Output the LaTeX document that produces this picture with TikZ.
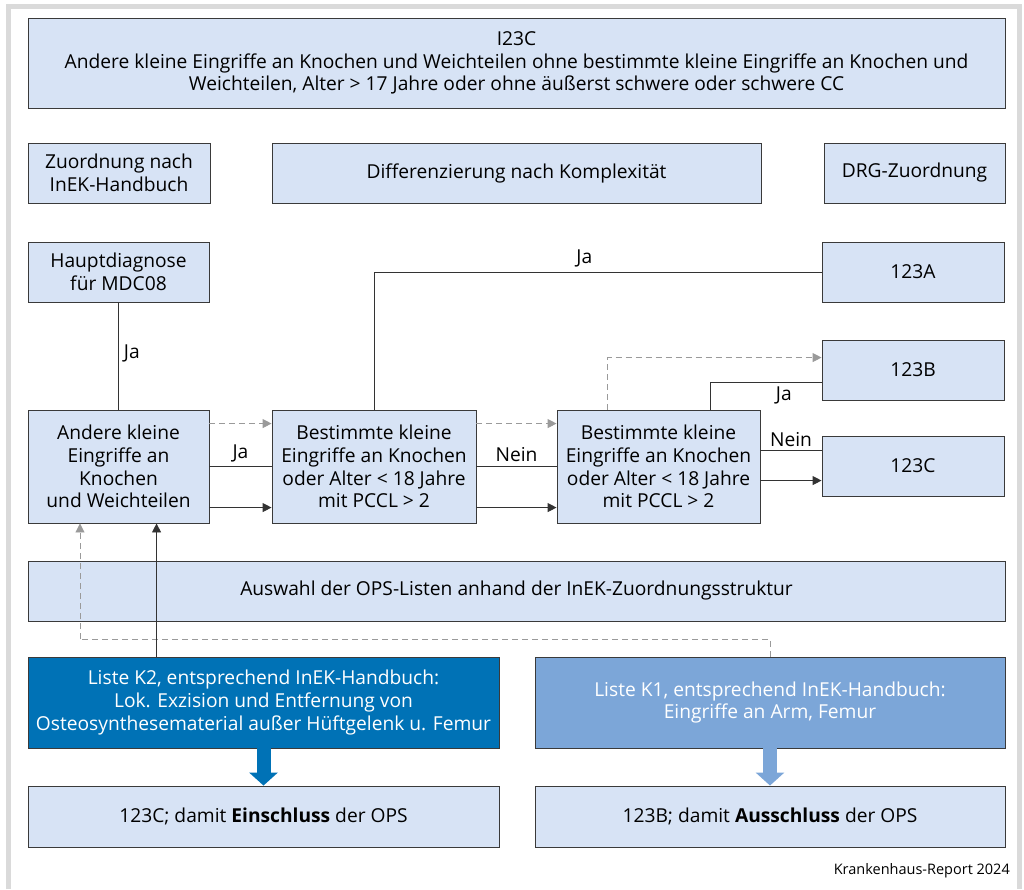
\documentclass[tikz,border=0pt]{standalone}
\usepackage{fontspec}
\setmainfont{Open Sans}
\usetikzlibrary{arrows.meta,shadows}
\definecolor{boxfill}{HTML}{D7E3F5}
\definecolor{boxdraw}{HTML}{3A3A3A}
\definecolor{darkblue}{HTML}{0072B6}
\definecolor{midblue}{HTML}{7CA6D8}
\definecolor{dashgray}{HTML}{9A9A9A}
\definecolor{framegray}{HTML}{DADADA}
\tikzset{
  box/.style={draw=boxdraw, line width=0.9pt, fill=boxfill, inner sep=0pt, align=center,
    font=\fontsize{19.2}{22.6}\selectfont,
    drop shadow={shadow xshift=0.9pt, shadow yshift=-0.9pt, fill=gray!80, opacity=1}},
  kbox/.style={box, text=white},
  conn/.style={draw=black!80, line width=0.9pt},
  arr/.style={conn, -{Triangle[length=9pt,width=9pt]}},
  darr/.style={draw=dashgray, line width=0.9pt, dash pattern=on 6pt off 4pt, -{Triangle[length=9pt,width=9pt]}},
  dline/.style={draw=dashgray, line width=0.9pt, dash pattern=on 6pt off 4pt},
  lbl/.style={font=\fontsize{19.2}{22}\selectfont, inner sep=1pt},
  fat/.style={line width=14pt, -{Triangle[length=13pt,width=28pt]}},
}
\begin{document}
\begin{tikzpicture}[x=1pt,y=-1pt]
\useasboundingbox (0,0) rectangle (1024,889);
\draw[framegray, line width=5pt] (8.5,889) -- (8.5,6.5) -- (1019.5,6.5) -- (1019.5,889);

\node[box, minimum width=977pt, minimum height=90pt] (top) at (516.5,63)
  {I23C\\Andere kleine Eingriffe an Knochen und Weichteilen ohne bestimmte kleine Eingriffe an Knochen und\\Weichteilen, Alter > 17 Jahre oder ohne äußerst schwere oder schwere CC};

\node[box, minimum width=182pt, minimum height=60pt] (zuord) at (119,173) {Zuordnung nach\\InEK-Handbuch};
\node[box, minimum width=489pt, minimum height=60pt] (diff) at (516.5,173) {Differenzierung nach Komplexität};
\node[box, minimum width=181pt, minimum height=60pt] (drg) at (914.5,173) {DRG-Zuordnung};

\node[box, minimum width=181pt, minimum height=60pt] (haupt) at (118.5,272) {Hauptdiagnose\\für MDC08};
\node[box, minimum width=181pt, minimum height=113pt] (andere) at (118.5,466.5) {Andere kleine\\Eingriffe an\\Knochen\\und Weichteilen};
\node[box, minimum width=204pt, minimum height=113pt] (b1) at (374,466.5) {Bestimmte kleine\\Eingriffe an Knochen\\oder Alter < 18 Jahre\\mit PCCL > 2};
\node[box, minimum width=203pt, minimum height=113pt] (b2) at (658.5,466.5) {Bestimmte kleine\\Eingriffe an Knochen\\oder Alter < 18 Jahre\\mit PCCL > 2};

\node[box, minimum width=182pt, minimum height=60pt] (ra) at (913,272) {123A};
\node[box, minimum width=182pt, minimum height=60pt] (rb) at (913,370) {123B};
\node[box, minimum width=182pt, minimum height=60pt] (rc) at (913,466) {123C};

\node[box, minimum width=977pt, minimum height=60pt] (ausw) at (516.5,591) {Auswahl der OPS-Listen anhand der InEK-Zuordnungsstruktur};

\node[kbox, fill=darkblue, minimum width=471pt, minimum height=91pt] (k2) at (263.5,702.5) {Liste K2, entsprechend InEK-Handbuch:\\Lok. Exzision und Entfernung von\\Osteosynthesematerial außer Hüftgelenk u. Femur};
\node[kbox, fill=midblue, minimum width=470pt, minimum height=91pt] (k1) at (770,702.5) {Liste K1, entsprechend InEK-Handbuch:\\Eingriffe an Arm, Femur};

\node[box, minimum width=471pt, minimum height=61pt] (r1) at (263.5,816.5) {123C; damit \textbf{Einschluss} der OPS};
\node[box, minimum width=470pt, minimum height=61pt] (r2) at (770,816.5) {123B; damit \textbf{Ausschluss} der OPS};

\node[anchor=south east, inner sep=0pt, font=\fontsize{14.5}{16}\selectfont] (src) at (1010,878) {Krankenhaus-Report 2024};

% connectors
\draw[conn] (haupt.south) -- node[lbl, right=4pt, pos=0.48] {Ja} (andere.north);

\draw[darr] ([yshift=-14pt]andere.north east) -- ([yshift=-14pt]b1.north west);
\draw[conn] (andere.east) -- node[lbl, above=3pt] {Ja} (b1.west);
\draw[arr] ([yshift=-98pt]andere.north east) -- ([yshift=-98pt]b1.north west);

\draw[conn] (b1.north) |- node[lbl, above=3pt, pos=0.735] {Ja} (ra.west);

\draw[darr] ([yshift=-14pt]b1.north east) -- ([yshift=-14pt]b2.north west);
\draw[conn] (b1.east) -- node[lbl, above=3pt] {Nein} (b2.west);
\draw[arr] ([yshift=-98pt]b1.north east) -- ([yshift=-98pt]b2.north west);

\draw[darr] ([xshift=51pt]b2.north west) |- ([yshift=-18pt]rb.north west);
\draw[conn] ([xshift=154pt]b2.north west) |- node[lbl, below=3pt, pos=0.83] {Ja} ([yshift=-43pt]rb.north west);
\draw[conn] ([yshift=-41pt]b2.north east) -- node[lbl, above=2pt] {Nein} ([yshift=-15pt]rc.north west);
\draw[arr] ([yshift=-71pt]b2.north east) -- ([yshift=-45pt]rc.north west);

\coordinate (dl) at (80,639);
\draw[dline] (k1.north) |- (dl);
\draw[darr] (dl) -- (dl |- andere.south);
\draw[arr] ([xshift=129pt]k2.north west) -- ([xshift=129pt]andere.south west);

\draw[fat, darkblue] (k2.south) -- (r1.north);
\draw[fat, midblue] (k1.south) -- (r2.north);
\end{tikzpicture}
\end{document}
